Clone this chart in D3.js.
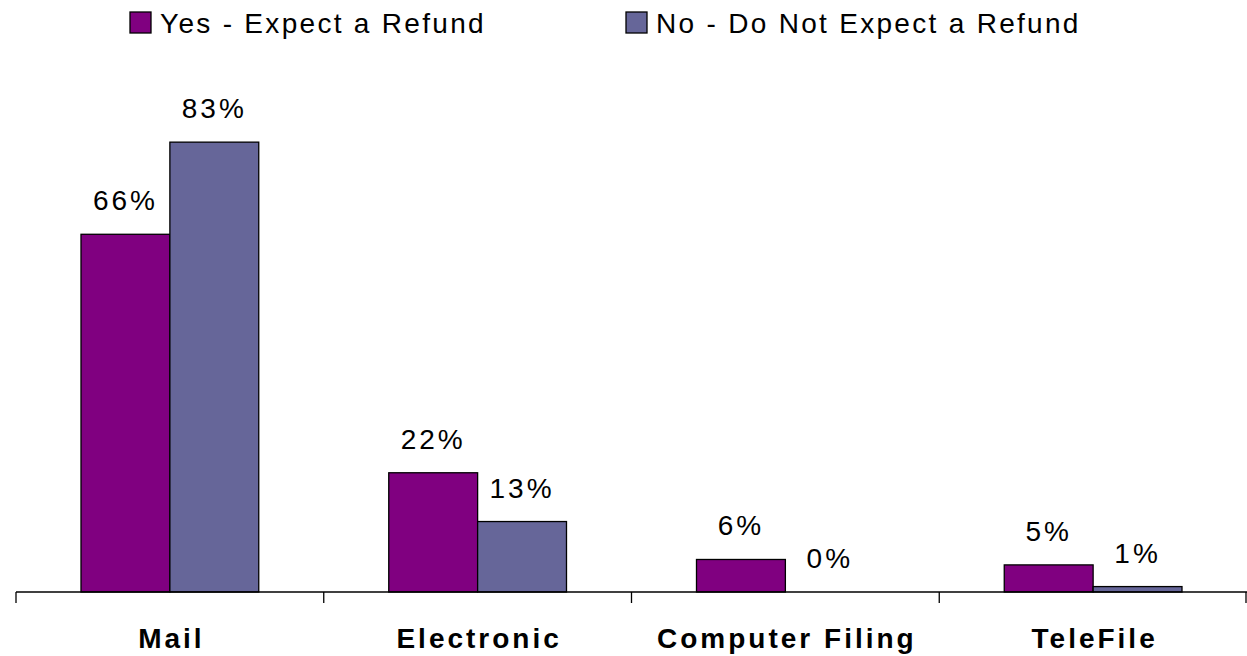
<!DOCTYPE html>
<html>
<head>
<meta charset="utf-8">
<script src="https://cdn.jsdelivr.net/npm/d3@7"></script>
<style>
  body { margin: 0; background: #fff; }
  svg { display: block; font-family: Arial, "Liberation Sans", sans-serif; }
</style>
</head>
<body>
<svg id="chart" width="1247" height="656"></svg>
<script>
// data
const categories = ["Mail", "Electronic", "Computer Filing", "TeleFile"];
const seriesNames = ["Yes - Expect a Refund", "No - Do Not Expect a Refund"];
const yesValues = [66, 22, 6, 5];
const noValues = [83, 13, 0, 1];
const yesLabels = ["66%", "22%", "6%", "5%"];
const noLabels = ["83%", "13%", "0%", "1%"];
const colors = ["#800080", "#666699"];

const svg = d3.select("#chart");
const width = 1247;
const margin = { top: 50, left: 16, right: 0, bottom: 592 };

// Scales
const x = d3.scaleBand()
    .domain(categories)
    .range([margin.left, width - margin.right])
    .paddingInner(0)
    .paddingOuter(0);

const groupPad = 65;
const x1 = d3.scaleBand()
    .domain(seriesNames)
    .range([groupPad, x.bandwidth() - groupPad]);

const y = d3.scaleLinear()
    .domain([0, 100])
    .range([margin.bottom, margin.top]);

const rows = categories.map((c, i) => ({
    cat: c,
    values: [
        { s: seriesNames[0], v: yesValues[i], label: yesLabels[i], color: colors[0] },
        { s: seriesNames[1], v: noValues[i], label: noLabels[i], color: colors[1] }
    ]
}));

// Bars
const groups = svg.append("g").selectAll("g")
    .data(rows)
    .join("g")
    .attr("transform", d => `translate(${x(d.cat)},0)`);

groups.selectAll("rect")
    .data(d => d.values.filter(v => v.v > 0))
    .join("rect")
    .attr("x", d => x1(d.s))
    .attr("y", d => y(d.v))
    .attr("width", x1.bandwidth())
    .attr("height", d => y(0) - y(d.v))
    .attr("fill", d => d.color)
    .attr("stroke", "#000")
    .attr("stroke-width", 1.3);

// Value labels
groups.selectAll("text")
    .data(d => d.values)
    .join("text")
    .attr("x", d => x1(d.s) + x1.bandwidth() / 2)
    .attr("y", d => y(d.v) - 24)
    .attr("text-anchor", "middle")
    .style("font-size", "28px")
    .style("letter-spacing", "3px")
    .attr("fill", "#000")
    .text(d => d.label);

// Axis line and ticks at category boundaries
svg.append("line")
    .attr("x1", x.range()[0]).attr("x2", x.range()[1])
    .attr("y1", y(0)).attr("y2", y(0))
    .attr("stroke", "#000").attr("stroke-width", 1.3);

const tickPos = categories.map(c => x(c)).concat([x.range()[1] - 1]);
svg.append("g").selectAll("line")
    .data(tickPos)
    .join("line")
    .attr("x1", d => d).attr("x2", d => d)
    .attr("y1", y(0)).attr("y2", y(0) + 11)
    .attr("stroke", "#000").attr("stroke-width", 1.3);

// Category labels
svg.append("g").selectAll("text")
    .data(categories)
    .join("text")
    .attr("x", d => x(d) + x.bandwidth() / 2 + 1.5)
    .attr("y", 648)
    .attr("text-anchor", "middle")
    .style("font-size", "28px")
    .style("font-weight", "bold")
    .style("letter-spacing", "3px")
    .text(d => d);

// Legend
const legendX = [130, 626];
const legend = svg.append("g").selectAll("g")
    .data(seriesNames)
    .join("g")
    .attr("transform", (d, i) => `translate(${legendX[i]},0)`);

legend.append("rect")
    .attr("x", 0).attr("y", 12)
    .attr("width", 21).attr("height", 21)
    .attr("fill", (d, i) => colors[i])
    .attr("stroke", "#000").attr("stroke-width", 1.3);

legend.append("text")
    .attr("x", 30).attr("y", 33)
    .style("font-size", "28px")
    .style("letter-spacing", "2.3px")
    .text(d => d);
</script>
</body>
</html>
